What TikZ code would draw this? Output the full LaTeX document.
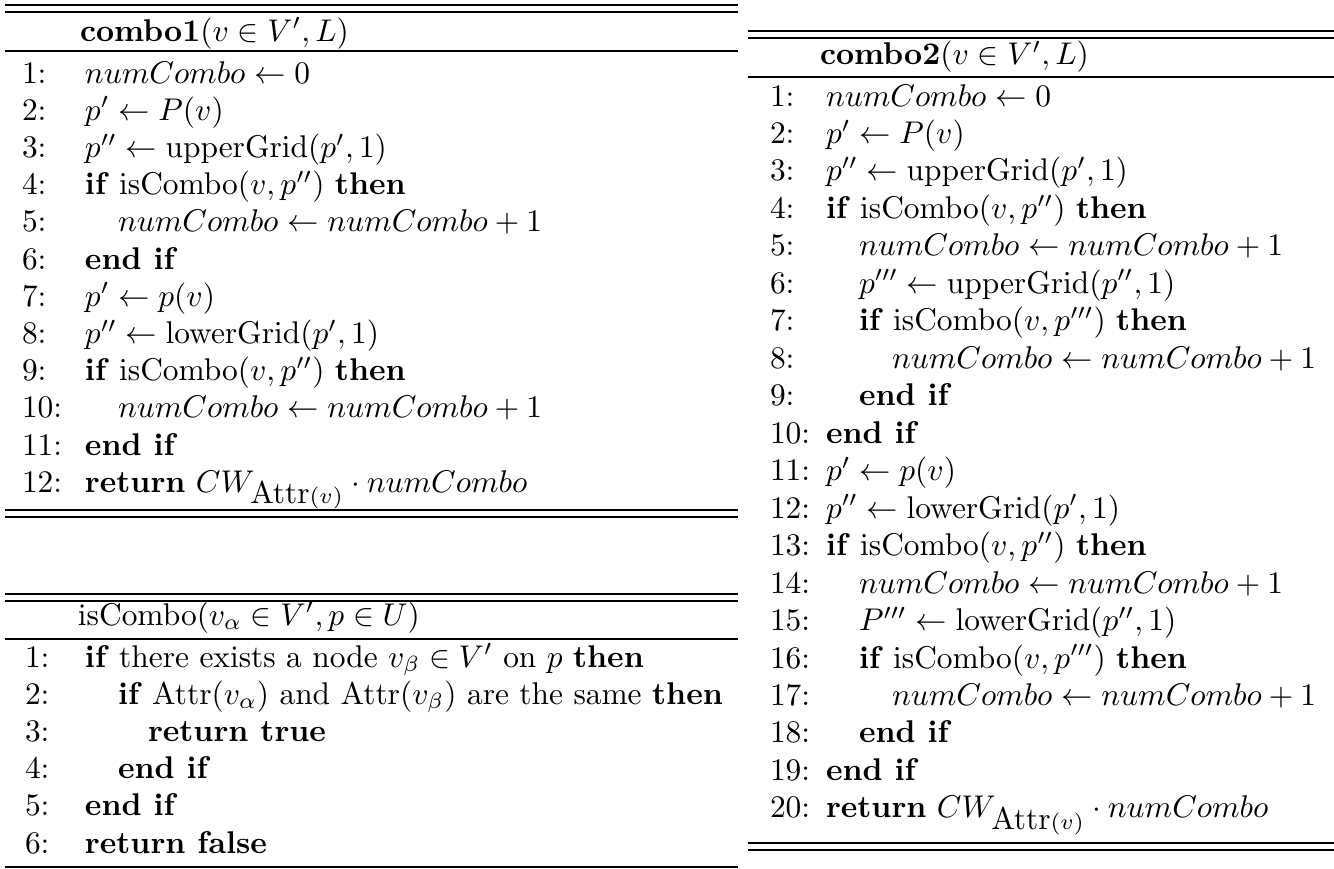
\documentclass[tikz,border=0pt]{standalone}
\usepackage{amsmath}
\begin{document}
\begin{tikzpicture}[x=0.3185pt,y=-0.3185pt,
  ln/.style={anchor=base west,inner sep=0pt,outer sep=0pt},
  rl/.style={line width=0.45pt}]
\useasboundingbox (0,0) rectangle (1334,869);
% ---------- combo1 ----------
\draw[rl] (5,5)--(738,5) (5,12)--(738,12) (5,51)--(738,51) (5,510)--(738,510) (5,517)--(738,517);
\node[ln] (ah) at (80,41) {\textbf{combo1}$(v \in V', L)$};
\node[ln] (an1) at (22,83) {1:};     \node[ln] (a1) at (85,83) {$numCombo \gets 0$};
\node[ln] (an2) at (22,120.2) {2:};  \node[ln] (a2) at (85,120.2) {$p' \gets P(v)$};
\node[ln] (an3) at (22,157.4) {3:};  \node[ln] (a3) at (85,157.4) {$p'' \gets \mathrm{upperGrid}(p',1)$};
\node[ln] (an4) at (22,194.6) {4:};  \node[ln] (a4) at (85,194.6) {\textbf{if} $\mathrm{isCombo}(v,p'')$ \textbf{then}};
\node[ln] (an5) at (22,231.8) {5:};  \node[ln] (a5) at (118,231.8) {$numCombo \gets numCombo + 1$};
\node[ln] (an6) at (22,269) {6:};    \node[ln] (a6) at (85,269) {\textbf{end if}};
\node[ln] (an7) at (22,306.2) {7:};  \node[ln] (a7) at (85,306.2) {$p' \gets p(v)$};
\node[ln] (an8) at (22,343.4) {8:};  \node[ln] (a8) at (85,343.4) {$p'' \gets \mathrm{lowerGrid}(p',1)$};
\node[ln] (an9) at (22,380.6) {9:};  \node[ln] (a9) at (85,380.6) {\textbf{if} $\mathrm{isCombo}(v,p'')$ \textbf{then}};
\node[ln] (an10) at (22,417.8) {10:}; \node[ln] (a10) at (118,417.8) {$numCombo \gets numCombo + 1$};
\node[ln] (an11) at (22,455) {11:};  \node[ln] (a11) at (85,455) {\textbf{end if}};
\node[ln] (an12) at (22,492.2) {12:}; \node[ln] (a12) at (85,492.2) {\textbf{return} $CW_{\mbox{Attr}(v)} \cdot numCombo$};
% ---------- isCombo ----------
\draw[rl] (5,594)--(738,594) (5,601)--(738,601) (5,639)--(738,639) (5,867)--(738,867);
\node[ln] (bh) at (78,625) {isCombo$(v_\alpha \in V', p \in U)$};
\node[ln] (bn1) at (25,667) {1:};    \node[ln] (b1) at (85,667) {\textbf{if} there exists a node $v_\beta \in V'$ on $p$ \textbf{then}};
\node[ln] (bn2) at (25,704.2) {2:};  \node[ln] (b2) at (118,704.2) {\textbf{if} Attr$(v_\alpha)$ and Attr$(v_\beta)$ are the same \textbf{then}};
\node[ln] (bn3) at (25,741.4) {3:};  \node[ln] (b3) at (148,741.4) {\textbf{return true}};
\node[ln] (bn4) at (25,778.6) {4:};  \node[ln] (b4) at (118,778.6) {\textbf{end if}};
\node[ln] (bn5) at (25,815.8) {5:};  \node[ln] (b5) at (85,815.8) {\textbf{end if}};
\node[ln] (bn6) at (25,853) {6:};    \node[ln] (b6) at (85,853) {\textbf{return false}};
% ---------- combo2 ----------
\draw[rl] (748,31)--(1334,31) (748,38)--(1334,38) (748,77)--(1334,77) (748,843)--(1334,843) (748,850)--(1334,850);
\node[ln] (ch) at (820,65) {\textbf{combo2}$(v \in V', L)$};
\node[ln] (cn1) at (770,106) {1:};      \node[ln] (c1) at (826,106) {$numCombo \gets 0$};
\node[ln] (cn2) at (770,143.47) {2:};   \node[ln] (c2) at (826,143.47) {$p' \gets P(v)$};
\node[ln] (cn3) at (770,180.94) {3:};   \node[ln] (c3) at (826,180.94) {$p'' \gets \mathrm{upperGrid}(p',1)$};
\node[ln] (cn4) at (770,218.41) {4:};   \node[ln] (c4) at (826,218.41) {\textbf{if} $\mathrm{isCombo}(v,p'')$ \textbf{then}};
\node[ln] (cn5) at (770,255.88) {5:};   \node[ln] (c5) at (859,255.88) {$numCombo \gets numCombo + 1$};
\node[ln] (cn6) at (770,293.35) {6:};   \node[ln] (c6) at (859,293.35) {$p''' \gets \mathrm{upperGrid}(p'',1)$};
\node[ln] (cn7) at (770,330.82) {7:};   \node[ln] (c7) at (859,330.82) {\textbf{if} $\mathrm{isCombo}(v,p''')$ \textbf{then}};
\node[ln] (cn8) at (770,368.29) {8:};   \node[ln] (c8) at (892,368.29) {$numCombo \gets numCombo + 1$};
\node[ln] (cn9) at (770,405.76) {9:};   \node[ln] (c9) at (859,405.76) {\textbf{end if}};
\node[ln] (cn10) at (770,443.23) {10:}; \node[ln] (c10) at (826,443.23) {\textbf{end if}};
\node[ln] (cn11) at (770,480.7) {11:};  \node[ln] (c11) at (826,480.7) {$p' \gets p(v)$};
\node[ln] (cn12) at (770,518.17) {12:}; \node[ln] (c12) at (826,518.17) {$p'' \gets \mathrm{lowerGrid}(p',1)$};
\node[ln] (cn13) at (770,555.64) {13:}; \node[ln] (c13) at (826,555.64) {\textbf{if} $\mathrm{isCombo}(v,p'')$ \textbf{then}};
\node[ln] (cn14) at (770,593.11) {14:}; \node[ln] (c14) at (859,593.11) {$numCombo \gets numCombo + 1$};
\node[ln] (cn15) at (770,630.58) {15:}; \node[ln] (c15) at (859,630.58) {$P''' \gets \mathrm{lowerGrid}(p'',1)$};
\node[ln] (cn16) at (770,668.05) {16:}; \node[ln] (c16) at (859,668.05) {\textbf{if} $\mathrm{isCombo}(v,p''')$ \textbf{then}};
\node[ln] (cn17) at (770,705.52) {17:}; \node[ln] (c17) at (892,705.52) {$numCombo \gets numCombo + 1$};
\node[ln] (cn18) at (770,742.99) {18:}; \node[ln] (c18) at (859,742.99) {\textbf{end if}};
\node[ln] (cn19) at (770,780.46) {19:}; \node[ln] (c19) at (826,780.46) {\textbf{end if}};
\node[ln] (cn20) at (770,817.93) {20:}; \node[ln] (c20) at (826,817.93) {\textbf{return} $CW_{\mbox{Attr}(v)} \cdot numCombo$};
\end{tikzpicture}
\end{document}
